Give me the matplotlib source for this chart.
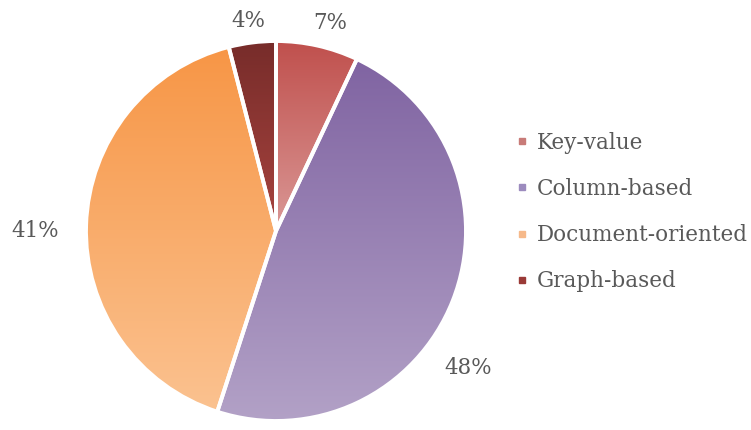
import matplotlib
matplotlib.use("Agg")
import matplotlib.pyplot as plt
import matplotlib.patches as mpatches
import numpy as np
from matplotlib.colors import LinearSegmentedColormap
from matplotlib.lines import Line2D

categories = ["Key-value", "Column-based", "Document-oriented", "Graph-based"]
values = [7, 48, 41, 4]
pct_labels = ["7%", "48%", "41%", "4%"]
top_colors = ["#C0504D", "#8064A2", "#F79646", "#772C2A"]
bottom_colors = ["#DA9896", "#B3A2C7", "#FBC290", "#A8443F"]
legend_colors = ["#C87B78", "#9C8BBE", "#F6B98A", "#9A3A37"]
label_pos = [(0.285, 1.095), (1.01, -0.72), (-1.265, 0.0), (-0.145, 1.105)]

plt.rcParams['font.family'] = ['DejaVu Serif']
text_color = "#595959"

fig = plt.figure(figsize=(7.51, 4.30), dpi=100)
cx, cy, r = 276, 231, 190
ax = fig.add_axes([(cx - r) / 751, (430 - cy - r) / 430, 2 * r / 751, 2 * r / 430])

wedges, _ = ax.pie(values, startangle=90, counterclock=False, radius=1,
                   colors=legend_colors,
                   wedgeprops=dict(edgecolor="white", linewidth=2.8))
ax.set_aspect('equal')
ax.axis('off')

for w, tc, bc in zip(wedges, top_colors, bottom_colors):
    path = w.get_path()
    verts = w.get_patch_transform().transform(path.vertices)
    x0, x1 = verts[:, 0].min(), verts[:, 0].max()
    y0, y1 = verts[:, 1].min(), verts[:, 1].max()
    cmap = LinearSegmentedColormap.from_list("g", [bc, tc])
    grad = np.linspace(0, 1, 256).reshape(-1, 1)
    im = ax.imshow(grad, cmap=cmap, extent=[x0, x1, y0, y1], origin='lower',
                   aspect='auto', zorder=w.get_zorder() + 0.1)
    im.set_clip_path(w)
    e = mpatches.Wedge(w.center, w.r, w.theta1, w.theta2,
                       facecolor='none', edgecolor='white',
                       linewidth=2.8, zorder=w.get_zorder() + 0.2)
    ax.add_patch(e)

ax.set_xlim(-1, 1)
ax.set_ylim(-1, 1)

for lab, (x, y) in zip(pct_labels, label_pos):
    ax.text(x, y, lab, ha='center', va='center', fontsize=15.5, color=text_color,
            clip_on=False)

handles = [Line2D([0], [0], marker='s', linestyle='none', markersize=5,
                  markerfacecolor=c, markeredgecolor=c) for c in legend_colors]
fig.legend(handles, categories, loc='center left',
           bbox_to_anchor=(496 / 751, 1 - 212 / 430), frameon=False,
           fontsize=15.5, labelcolor=text_color, handlelength=0.6,
           handletextpad=0.4, labelspacing=1.13)

fig.savefig("out.png", dpi=100)
